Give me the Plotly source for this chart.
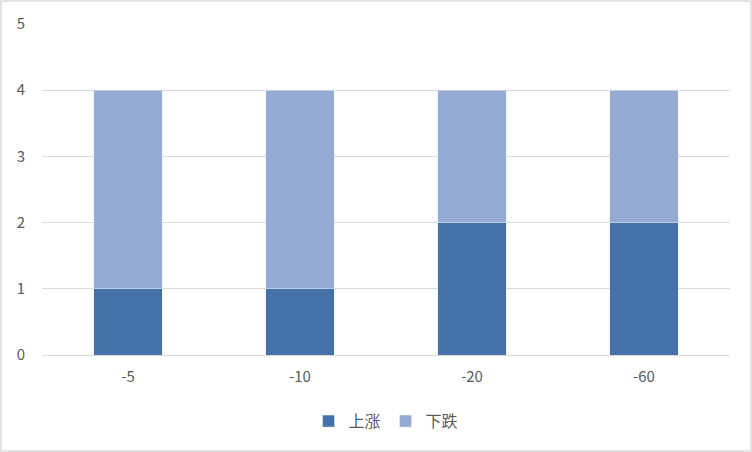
import plotly.graph_objects as go

categories = ['-5', '-10', '-20', '-60']
up_values = [1, 1, 2, 2]
down_values = [3, 3, 2, 2]

W, H = 752, 452
ml, mr, mt, mb = 42, 22, 24, 97
pw, ph = W - ml - mr, H - mt - mb

fig = go.Figure()
fig.add_trace(go.Bar(x=categories, y=up_values, name='上涨', marker_color='#4472A8', width=0.4))
fig.add_trace(go.Bar(x=categories, y=down_values, name='下跌', marker_color='#95ABD3', width=0.4))

fig.update_layout(
    width=W, height=H,
    barmode='stack',
    margin=dict(l=ml, r=mr, t=mt, b=mb),
    paper_bgcolor='white', plot_bgcolor='white',
    font=dict(family='Noto Sans CJK SC, Liberation Sans, sans-serif', size=15, color='#595959'),
    legend=dict(orientation='h', x=0.5, xanchor='center', y=-0.2, yanchor='middle',
                font=dict(size=16), itemwidth=30, traceorder='normal'),
    showlegend=True,
)
fig.update_yaxes(range=[0, 5], dtick=1, showgrid=True, gridcolor='#D9D9D9', gridwidth=1,
                 zeroline=False, showline=False, ticks='', ticklabelstandoff=16)
fig.update_xaxes(showline=True, linecolor='#D9D9D9', ticks='', ticklabelstandoff=8)

# chart border
fig.add_shape(type='rect', xref='paper', yref='paper',
              x0=-(ml - 1) / pw, x1=1 + (mr - 1) / pw,
              y0=-(mb - 1) / ph, y1=1 + (mt - 1) / ph,
              line=dict(color='#D9D9D9', width=1.5))

fig.write_html('out.html', config={'displayModeBar': False},
               post_script="document.body.style.margin='0';")
